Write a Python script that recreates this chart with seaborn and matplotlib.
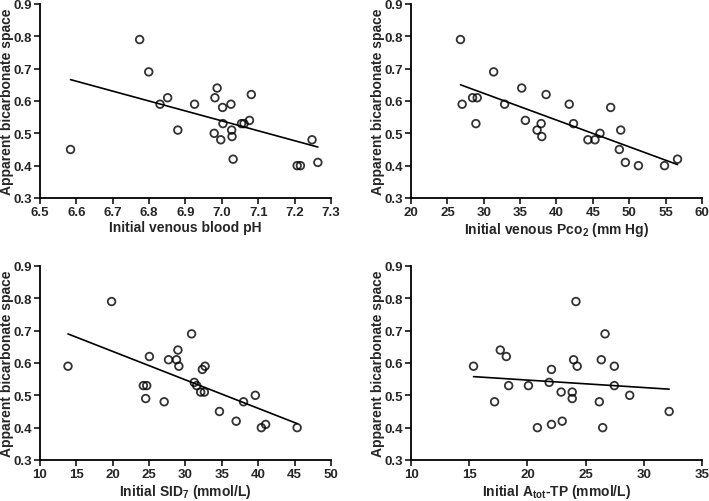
import numpy as np
import pandas as pd
import seaborn as sns
import matplotlib
matplotlib.use("Agg")
import matplotlib.pyplot as plt

# Values (25 patients per panel)
ph = [6.584, 6.774, 6.799, 6.830, 6.851, 6.879, 6.925, 6.979, 6.981, 6.987,
      6.997, 7.002, 7.003, 7.025, 7.027, 7.028, 7.031, 7.054, 7.061, 7.076,
      7.081, 7.207, 7.216, 7.248, 7.264]
ph_abs = [0.45, 0.79, 0.69, 0.59, 0.61, 0.51, 0.59, 0.50, 0.61, 0.64,
          0.48, 0.58, 0.53, 0.59, 0.51, 0.49, 0.42, 0.53, 0.53, 0.54,
          0.62, 0.40, 0.40, 0.48, 0.41]

pco2 = [26.80, 27.03, 28.46, 29.10, 28.92, 31.36, 32.87, 35.22, 35.72, 37.33,
        37.89, 37.98, 38.57, 41.75, 42.34, 44.32, 45.29, 45.98, 47.45, 48.64,
        48.83, 49.47, 51.26, 54.85, 56.64]
pco2_abs = [0.79, 0.59, 0.61, 0.61, 0.53, 0.69, 0.59, 0.64, 0.54, 0.51,
            0.53, 0.49, 0.62, 0.59, 0.53, 0.48, 0.48, 0.50, 0.58, 0.45,
            0.51, 0.41, 0.40, 0.40, 0.42]

sid = [13.85, 19.84, 24.21, 24.67, 24.53, 25.04, 27.07, 27.67, 28.77, 28.96,
       29.09, 30.84, 31.21, 31.54, 32.09, 32.60, 32.32, 32.69, 34.67, 36.97,
       37.98, 39.60, 40.43, 41.02, 45.35]
sid_abs = [0.59, 0.79, 0.53, 0.53, 0.49, 0.62, 0.48, 0.61, 0.61, 0.64,
           0.59, 0.69, 0.54, 0.53, 0.51, 0.51, 0.58, 0.59, 0.45, 0.42,
           0.48, 0.50, 0.40, 0.41, 0.40]

atot = [15.37, 17.18, 17.67, 18.19, 18.39, 20.09, 20.86, 21.87, 22.07, 22.07,
        22.90, 22.99, 23.85, 23.85, 23.97, 24.17, 24.28, 26.18, 26.35, 26.47,
        26.67, 27.47, 27.47, 28.79, 32.18]
atot_abs = [0.59, 0.48, 0.64, 0.62, 0.53, 0.53, 0.40, 0.54, 0.58, 0.41,
            0.51, 0.42, 0.51, 0.49, 0.61, 0.79, 0.59, 0.48, 0.61, 0.40,
            0.69, 0.59, 0.53, 0.50, 0.45]

sns.set_style("ticks")
plt.rcParams["font.family"] = ["Liberation Sans", "DejaVu Sans"]
plt.rcParams["font.weight"] = "bold"
plt.rcParams["mathtext.fontset"] = "custom"
plt.rcParams["mathtext.rm"] = "Liberation Sans:bold"
plt.rcParams["mathtext.it"] = "Liberation Sans:bold"
plt.rcParams["mathtext.bf"] = "Liberation Sans:bold"

panels = [
    (ph, ph_abs, "Initial venous blood pH", (6.5, 7.3), np.arange(6.5, 7.31, 0.1), "{:.1f}"),
    (pco2, pco2_abs, r"Initial venous Pco$_{\mathrm{2}}$ (mm Hg)", (20, 60), np.arange(20, 61, 5), "{:.0f}"),
    (sid, sid_abs, r"Initial SID$_{\mathrm{7}}$ (mmol/L)", (10, 50), np.arange(10, 51, 5), "{:.0f}"),
    (atot, atot_abs, r"Initial A$_{\mathrm{tot}}$-TP (mmol/L)", (10, 35), np.arange(10, 36, 5), "{:.0f}"),
]

# axes boxes in figure fractions [left, bottom, width, height]
boxes = [
    [0.0564, 0.6036, 0.4104, 0.3865],
    [0.5797, 0.6036, 0.4104, 0.3865],
    [0.0564, 0.0817, 0.4104, 0.3865],
    [0.5797, 0.0817, 0.4104, 0.3865],
]

yt = np.arange(0.3, 0.91, 0.1)

fig = plt.figure(figsize=(7.09, 5.02), dpi=100)

for (xv, yv, xlabel, xlim, xticks, fmt), box in zip(panels, boxes):
    ax = fig.add_axes(box)
    df = pd.DataFrame({"x": xv, "y": yv})
    sns.regplot(data=df, x="x", y="y", ax=ax, ci=None, color="black",
                scatter_kws=dict(facecolors="none", edgecolors="black", s=30, linewidths=1.3),
                line_kws=dict(lw=1.2))
    ax.set_xlim(*xlim)
    ax.set_ylim(0.3, 0.9)
    ax.set_xticks(xticks)
    ax.set_xticklabels([fmt.format(t) for t in xticks])
    ax.set_yticks(yt)
    ax.set_yticklabels(["{:.1f}".format(t) for t in yt])
    ax.set_xlabel(xlabel, fontsize=10, fontweight="bold", labelpad=1)
    ax.set_ylabel("Apparent bicarbonate space", fontsize=10, fontweight="bold")
    ax.yaxis.set_label_coords(-0.088, 0.5)
    ax.tick_params(labelsize=9.5, width=1.3, length=4, direction="out", pad=2)
    for lab in ax.get_xticklabels() + ax.get_yticklabels():
        lab.set_fontweight("bold")
    for s in ["left", "bottom"]:
        ax.spines[s].set_linewidth(1.3)
        ax.spines[s].set_color("black")
    sns.despine(ax=ax)
    for c in ax.collections:
        c.set_clip_on(False)

fig.savefig("out.png", dpi=100)
